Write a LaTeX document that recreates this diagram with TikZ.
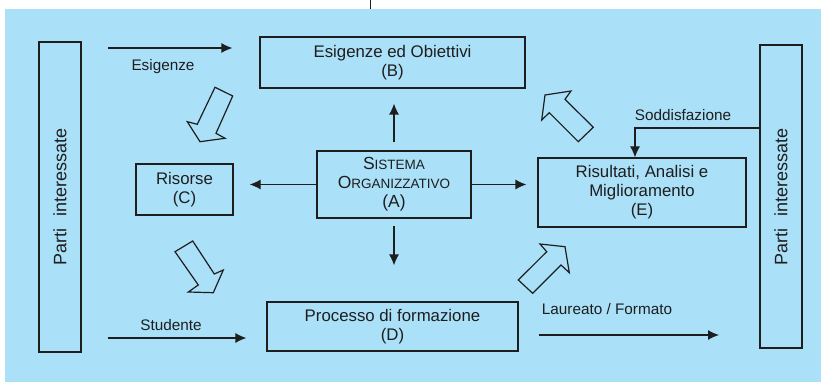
\documentclass[tikz,border=0pt]{standalone}
\usepackage{fontspec}
\setmainfont{Liberation Sans}
\usetikzlibrary{arrows.meta}
\definecolor{sky}{RGB}{170,224,248}
\definecolor{ink}{RGB}{30,30,30}
\newcommand{\minicaps}[1]{{\fontsize{13.5}{19}\selectfont #1}}

\begin{document}
\begin{tikzpicture}[x=1pt, y=-1pt, box/.style={draw=ink, line width=1.2pt, align=center, inner sep=0pt, text=ink, font=\fontsize{16.8}{19}\selectfont}, side/.style={draw=ink, line width=1.2pt, rotate=90, minimum height=42pt, inner sep=0pt, text=ink, font=\fontsize{18}{20}\selectfont}, lbl/.style={text=ink, font=\fontsize{15.3}{18}\selectfont}, n/.style={-{Latex[length=11pt, width=10pt]}, draw=ink, line width=1.2pt}, blk/.style={draw=ink, line width=1.2pt, line join=miter}]
                \useasboundingbox (0,0) rectangle (821,382);
                \fill[sky] (5,9) rectangle (821,382);
                \draw[ink, line width=0.8pt] (370,0) -- (370,9);
                % nodes
                \node[box, minimum width=265pt, minimum height=51pt] (B) at (392.5,62.5) {Esigenze ed Obiettivi\\(B)};
                \node[box, minimum width=154pt, minimum height=67pt, font=\fontsize{17.5}{19}\selectfont] (A) at (394,184.5) {S\minicaps{ISTEMA}\\O\minicaps{RGANIZZATIVO}\\(A)};
                \node[box, minimum width=97pt, minimum height=51pt] (C) at (184.5,189.5) {Risorse\\(C)};
                \node[box, minimum width=251pt, minimum height=49pt] (D) at (392.5,326.5) {Processo di formazione\\(D)};
                \node[box, minimum width=208pt, minimum height=69pt] (E) at (642,192.5) {Risultati, Analisi e\\Miglioramento\\(E)};
                \node[side, minimum width=310pt] (pl) at (60,197) {Parti\hspace{12pt}interessate};
                \node[side, minimum width=303pt] (pr) at (781,196.5) {Parti\hspace{12pt}interessate};
                \node[lbl] (esglbl) at (163,67) {Esigenze};
                \node[lbl] (stulbl) at (171,325) {Studente};
                \node[lbl] (laulbl) at (607,309) {Laureato / Formato};
                \node[lbl] (sodlbl) at (683,115) {Soddisfazione};
                \coordinate (esg) at (108,48);
                \coordinate (stu) at (108,338);
                \coordinate (lau) at (719,335);
                \coordinate (sod) at (635,128);
                % edges
                \draw[n, shorten <=8pt, shorten >=15pt] (A.north) -- (A.north |- B.south);
                \draw[n, shorten <=7pt, shorten >=36pt] (A.south) -- (A.south |- D.north);
                \draw[n, shorten >=11pt] (A.east) -- (A.east -| E.west);
                \draw[n, shorten >=16pt] (A.west) -- (A.west -| C.east);
                \draw[n, shorten >=27pt] (esg) -- (esg -| B.west);
                \draw[n, shorten >=20pt] (stu) -- (stu -| D.west);
                \draw[n, shorten <=20pt] (lau -| D.east) -- (lau);
                \draw[n] (sod -| pr.north) -- (sod) -- (sod |- E.north);
                % hollow arrows
                \draw[blk] (215,87.3) -- (232.7,96) -- (216,133.3) -- (225,138.3) -- (200,141.7) -- (187.3,121.7) -- (197.3,124.3) -- cycle;
                \draw[blk] (175,251.7) -- (192.7,241) -- (214.3,274) -- (223.3,270) -- (213.3,292.7) -- (188.3,292) -- (198.3,285) -- cycle;
                \draw[blk] (571,91) -- (545,95) -- (541.7,120) -- (549.3,112.7) -- (578.3,141.7) -- (593.3,127.3) -- (565,99.3) -- cycle;
                \draw[blk] (540,244) -- (565,246.7) -- (569.3,272.7) -- (561,265) -- (532.7,293.3) -- (518.3,280) -- (546.7,251.7) -- cycle;
            \end{tikzpicture}
\end{document}
